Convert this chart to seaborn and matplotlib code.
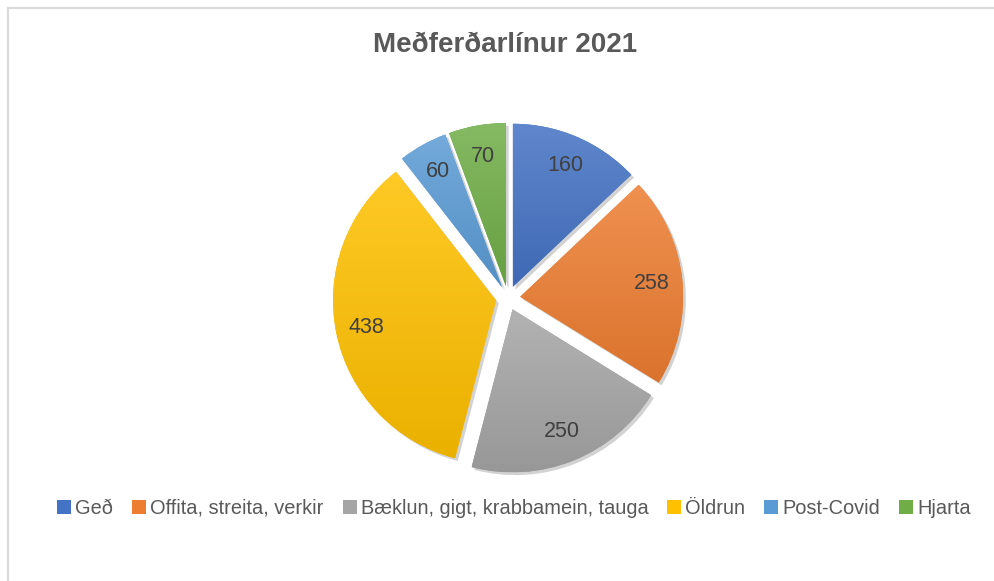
import numpy as np
import matplotlib
matplotlib.use("Agg")
import matplotlib.pyplot as plt
import matplotlib.colors as mcolors
from matplotlib.patches import Patch, Rectangle
import matplotlib.patheffects as pe
import seaborn as sns

categories = ["Geð", "Offita, streita, verkir", "Bæklun, gigt, krabbamein, tauga",
              "Öldrun", "Post-Covid", "Hjarta"]
values = [160, 258, 250, 438, 60, 70]
colors = ["#4472C4", "#ED7D31", "#A5A5A5", "#FFC000", "#5B9BD5", "#70AD47"]
title = "Meðferðarlínur 2021"

sns.set_theme(style="white")
plt.rcParams["font.family"] = ["Liberation Sans", "DejaVu Sans"]

W, H = 994, 581
fig = plt.figure(figsize=(W / 100, H / 100), dpi=100)
fig.patch.set_facecolor("white")

# chart border (top and left visible)
fig.patches.append(Rectangle((8 / W, -20 / H), (W + 40) / W, (H - 8 + 20) / H,
                             transform=fig.transFigure, fill=False,
                             edgecolor="#d9d9d9", linewidth=1.5))

R = 163.0
cx, cy = 508.0, 298.0
half = 1.25 * R
ax = fig.add_axes([(cx - half) / W, (H - cy - half) / H, 2 * half / W, 2 * half / H])
ax.set_xlim(-1.25, 1.25)
ax.set_ylim(-1.25, 1.25)
ax.set_aspect("equal")
ax.axis("off")

palette = sns.color_palette(colors)
explode = [0.075] * len(values)
wedges, texts = ax.pie(values, colors=palette, startangle=90, counterclock=False,
                       explode=explode, labels=[str(v) for v in values],
                       labeldistance=0.81, radius=1.0,
                       wedgeprops=dict(linewidth=0),
                       textprops=dict(fontsize=15.5, color="#404040",
                                      ha="center", va="center"))

def shade(c, f):
    c = np.array(mcolors.to_rgb(c))
    if f > 0:
        return c + (1 - c) * f
    return c * (1 + f)

for w, c in zip(wedges, colors):
    w.set_path_effects([pe.SimplePatchShadow(offset=(2, -2), alpha=0.35,
                                             shadow_rgbFace="#808080"), pe.Normal()])
    bb = w.get_path().get_extents(w.get_patch_transform())
    top = shade(c, 0.15)
    bot = shade(c, -0.08)
    n = 64
    t = np.linspace(0, 1, n)[:, None]
    grad = (top[None, :] * (1 - t) + bot[None, :] * t)[:, None, :]
    im = ax.imshow(grad, extent=(bb.x0, bb.x1, bb.y0, bb.y1), origin="upper",
                   aspect="auto", zorder=w.get_zorder() + 0.1, interpolation="bilinear")
    im.set_clip_path(w)

for t_ in texts:
    t_.set_zorder(5)

ax.set_xlim(-1.25, 1.25)
ax.set_ylim(-1.25, 1.25)

fig.text(505 / W, 1 - 45 / H, title, ha="center", va="center", fontsize=20,
         fontweight="bold", color="#595959")

handles = [Patch(facecolor=c, edgecolor="none") for c in colors]
leg = fig.legend(handles, categories, loc="center", bbox_to_anchor=(514 / W, 1 - 508 / H),
                 ncol=6, frameon=False, fontsize=14.4, handlelength=0.7, handleheight=0.7,
                 handletextpad=0.2, columnspacing=0.95, borderpad=0)
for t_ in leg.get_texts():
    t_.set_color("#595959")

fig.savefig("out.png", dpi=100)
